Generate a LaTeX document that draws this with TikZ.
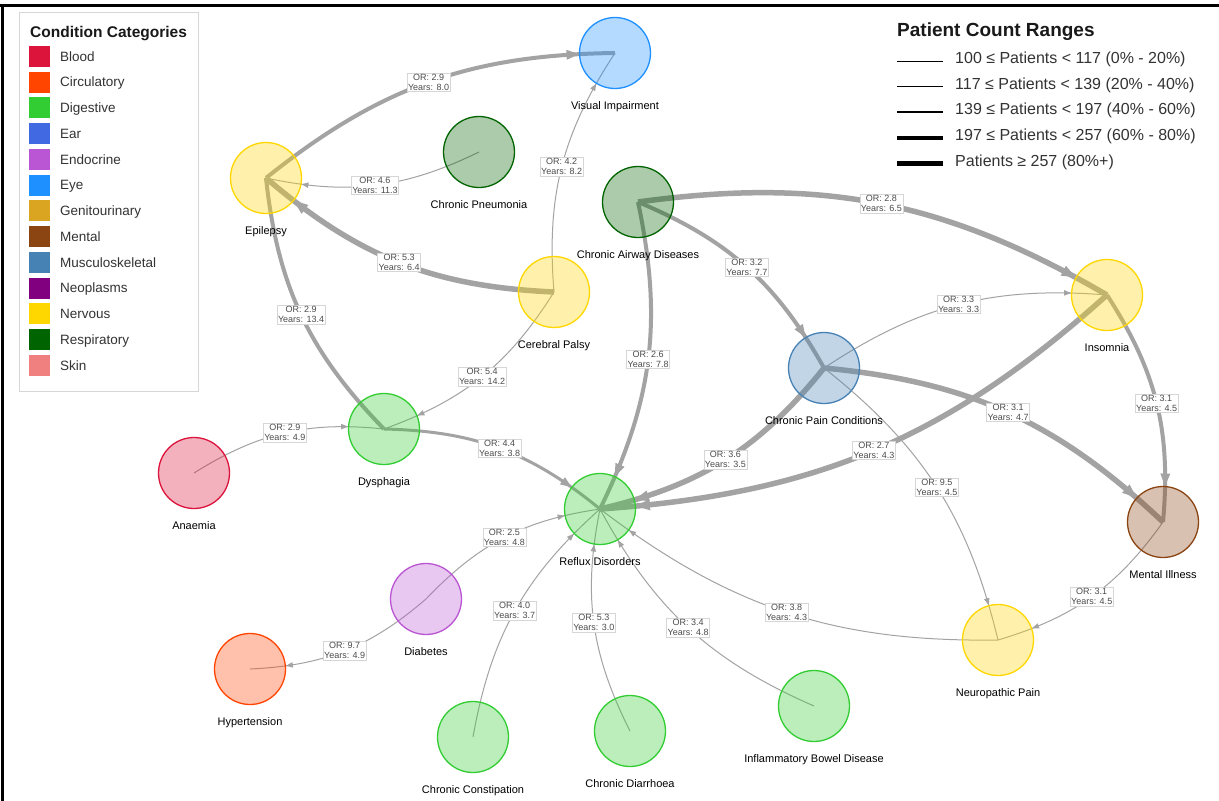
\documentclass[tikz,border=0pt]{standalone}
\usepackage{fontspec}
\setmainfont{Liberation Sans}
\usetikzlibrary{arrows.meta}
\usetikzlibrary{decorations.markings}

\definecolor{bloodc}{HTML}{DC143C}
\definecolor{circc}{HTML}{FF4500}
\definecolor{digc}{HTML}{32CD32}
\definecolor{earc}{HTML}{4169E1}
\definecolor{endoc}{HTML}{BA55D3}
\definecolor{eyec}{HTML}{1E90FF}
\definecolor{genc}{HTML}{DAA520}
\definecolor{mentc}{HTML}{8B4513}
\definecolor{muscc}{HTML}{4682B4}
\definecolor{neoc}{HTML}{800080}
\definecolor{nervc}{HTML}{FFD700}
\definecolor{respc}{HTML}{006400}
\definecolor{skinc}{HTML}{F08080}
\definecolor{linkgray}{HTML}{A3A3A3}
\definecolor{boxgray}{HTML}{D6D6D6}
\definecolor{txtgray}{HTML}{333333}

\pgfdeclarelayer{paper}
\pgfdeclarelayer{links}
\pgfsetlayers{paper,links,main}

\begin{document}
\begin{tikzpicture}[x=1pt, y=-1pt]

\def\rr{36}   % radius of a condition circle, border included
\def\bend{19} % bend of every link
\def\ly{56}   % drop from circle centre to label baseline

\tikzset{cond/.style = {circle, minimum size=71pt, inner sep=0pt,
                        line width=1.3pt, fill opacity=0.33},
         blood/.style   = {cond, draw=bloodc, fill=bloodc},
         circul/.style  = {cond, draw=circc,  fill=circc},
         digest/.style  = {cond, draw=digc,   fill=digc},
         endo/.style    = {cond, draw=endoc,  fill=endoc},
         eye/.style     = {cond, draw=eyec,   fill=eyec},
         mental/.style  = {cond, draw=mentc,  fill=mentc},
         musc/.style    = {cond, draw=muscc,  fill=muscc},
         nervous/.style = {cond, draw=nervc,  fill=nervc},
         resp/.style    = {cond, draw=respc,  fill=respc},
         condlbl/.style = {anchor=base, inner sep=0pt, text=black,
                           font=\fontsize{11}{13}\selectfont}
        }

\tikzset{link/.style 2 args = {draw=linkgray, line width=#1, postaction={decorate},
            decoration={markings, mark=at position -\rr pt with
              {\arrow{Triangle[length=#2, width'=0pt 0.8, line width=0pt]}}}},
         wa/.style = {link={1pt}{7pt}},
         wc/.style = {link={3pt}{11pt}},
         wd/.style = {link={4pt}{12.5pt}},
         we/.style = {link={5.5pt}{14pt}},
         orlbl/.style = {fill=white, draw=boxgray, line width=0.6pt, inner sep=1pt,
                         align=center, text=black!70, font=\fontsize{9}{10}\selectfont}
        }

\tikzset{legsq/.style    = {rectangle, minimum size=21pt, inner sep=0pt},
         legtext/.style  = {anchor=base west, inner sep=0pt, text=txtgray,
                            font=\fontsize{13.5}{15}\selectfont},
         legtitle/.style = {anchor=base west, inner sep=0pt, text=black!90,
                            font=\fontsize{15.5}{18}\selectfont\bfseries},
         rangetext/.style = {anchor=base west, inner sep=0pt, text=txtgray,
                             font=\fontsize{16}{18}\selectfont}
        }

\begin{pgfonlayer}{paper}
\fill[white] (0,0) rectangle (1219,801);
\end{pgfonlayer}
\useasboundingbox (0,0) rectangle (1219,801);

% frame
\draw[line width=3pt] (0,5.5) -- (1219,5.5);
\draw[line width=3pt] (2.5,4) -- (2.5,801);

% conditions
\node[eye]     (vi)   at (615,53)   {};
\node[nervous] (ep)   at (266,178)  {};
\node[resp]    (cpn)  at (479,152)  {};
\node[resp]    (cad)  at (638,202)  {};
\node[nervous] (cpal) at (554,292)  {};
\node[nervous] (ins)  at (1107,295) {};
\node[musc]    (cpc)  at (824,368)  {};
\node[digest]  (dys)  at (384,429)  {};
\node[blood]   (ana)  at (194,473)  {};
\node[digest]  (ref)  at (600,509)  {};
\node[mental]  (mi)   at (1163,522) {};
\node[endo]    (dia)  at (426,599)  {};
\node[circul]  (hyp)  at (250,669)  {};
\node[nervous] (np)   at (998,640)  {};
\node[digest]  (cc)   at (473,737)  {};
\node[digest]  (cd)   at (630,731)  {};
\node[digest]  (ibd)  at (814,706)  {};

% names of the conditions
\node[condlbl] (vi-l)   at ([yshift=-\ly pt]vi.center)   {Visual Impairment};
\node[condlbl] (ep-l)   at ([yshift=-\ly pt]ep.center)   {Epilepsy};
\node[condlbl] (cpn-l)  at ([yshift=-\ly pt]cpn.center)  {Chronic Pneumonia};
\node[condlbl] (cad-l)  at ([yshift=-\ly pt]cad.center)  {Chronic Airway Diseases};
\node[condlbl] (cpal-l) at ([yshift=-\ly pt]cpal.center) {Cerebral Palsy};
\node[condlbl] (ins-l)  at ([yshift=-\ly pt]ins.center)  {Insomnia};
\node[condlbl] (cpc-l)  at ([yshift=-\ly pt]cpc.center)  {Chronic Pain Conditions};
\node[condlbl] (dys-l)  at ([yshift=-\ly pt]dys.center)  {Dysphagia};
\node[condlbl] (ana-l)  at ([yshift=-\ly pt]ana.center)  {Anaemia};
\node[condlbl] (ref-l)  at ([yshift=-\ly pt]ref.center)  {Reflux Disorders};
\node[condlbl] (mi-l)   at ([yshift=-\ly pt]mi.center)   {Mental Illness};
\node[condlbl] (dia-l)  at ([yshift=-\ly pt]dia.center)  {Diabetes};
\node[condlbl] (hyp-l)  at ([yshift=-\ly pt]hyp.center)  {Hypertension};
\node[condlbl] (np-l)   at ([yshift=-\ly pt]np.center)   {Neuropathic Pain};
\node[condlbl] (cc-l)   at ([yshift=-\ly pt]cc.center)   {Chronic Constipation};
\node[condlbl] (cd-l)   at ([yshift=-\ly pt]cd.center)   {Chronic Diarrhoea};
\node[condlbl] (ibd-l)  at ([yshift=-\ly pt]ibd.center)  {Inflammatory Bowel Disease};

% links between conditions
\begin{pgfonlayer}{links}
\draw[wa] (cpn.center)  to[bend left=\bend] node[orlbl] (or-cpn-ep)   {OR: 4.6\\Years: 11.3} (ep.center);
\draw[wa] (cpal.center) to[bend left=\bend] node[orlbl] (or-cpal-vi)  {OR: 4.2\\Years: 8.2}  (vi.center);
\draw[wa] (cpal.center) to[bend left=\bend] node[orlbl] (or-cpal-dys) {OR: 5.4\\Years: 14.2} (dys.center);
\draw[wa] (ana.center)  to[bend left=\bend] node[orlbl] (or-ana-dys)  {OR: 2.9\\Years: 4.9}  (dys.center);
\draw[wa] (cpc.center)  to[bend left=\bend] node[orlbl] (or-cpc-ins)  {OR: 3.3\\Years: 3.3}  (ins.center);
\draw[wa] (cpc.center)  to[bend left=\bend] node[orlbl] (or-cpc-np)   {OR: 9.5\\Years: 4.5}  (np.center);
\draw[wa] (mi.center)   to[bend left=\bend] node[orlbl] (or-mi-np)    {OR: 3.1\\Years: 4.5}  (np.center);
\draw[wa] (np.center)   to[bend left=\bend] node[orlbl] (or-np-ref)   {OR: 3.8\\Years: 4.3}  (ref.center);
\draw[wa] (ibd.center)  to[bend left=\bend] node[orlbl] (or-ibd-ref)  {OR: 3.4\\Years: 4.8}  (ref.center);
\draw[wa] (cd.center)   to[bend left=\bend] node[orlbl] (or-cd-ref)   {OR: 5.3\\Years: 3.0}  (ref.center);
\draw[wa] (cc.center)   to[bend left=\bend] node[orlbl] (or-cc-ref)   {OR: 4.0\\Years: 3.7}  (ref.center);
\draw[wa] (dia.center)  to[bend left=\bend] node[orlbl] (or-dia-ref)  {OR: 2.5\\Years: 4.8}  (ref.center);
\draw[wa] (dia.center)  to[bend left=\bend] node[orlbl] (or-dia-hyp)  {OR: 9.7\\Years: 4.9}  (hyp.center);

\draw[wc] (dys.center)  to[bend left=\bend] node[orlbl] (or-dys-ref)  {OR: 4.4\\Years: 3.8}  (ref.center);
\draw[draw=linkgray, line width=4pt]
          (dys.center)  to[bend left=\bend] node[orlbl] (or-dys-ep)   {OR: 2.9\\Years: 13.4} (ep.center);
\draw[wd] (ep.center)   to[bend left=\bend] node[orlbl] (or-ep-vi)    {OR: 2.9\\Years: 8.0}  (vi.center);
\draw[wd] (cad.center)  to[bend left=\bend] node[orlbl] (or-cad-ref)  {OR: 2.6\\Years: 7.8}  (ref.center);
\draw[wd] (cad.center)  to[bend left=\bend] node[orlbl] (or-cad-cpc)  {OR: 3.2\\Years: 7.7}  (cpc.center);
\draw[wd] (ins.center)  to[bend left=\bend] node[orlbl] (or-ins-mi)   {OR: 3.1\\Years: 4.5}  (mi.center);
\draw[we] (cpal.center) to[bend left=\bend] node[orlbl] (or-cpal-ep)  {OR: 5.3\\Years: 6.4}  (ep.center);
\draw[we] (cad.center)  to[bend left=\bend] node[orlbl] (or-cad-ins)  {OR: 2.8\\Years: 6.5}  (ins.center);
\draw[we] (cpc.center)  to[bend left=\bend] node[orlbl] (or-cpc-mi)   {OR: 3.1\\Years: 4.7}  (mi.center);
\draw[we] (cpc.center)  to[bend left=\bend] node[orlbl] (or-cpc-ref)  {OR: 3.6\\Years: 3.5}  (ref.center);
\draw[we] (ins.center)  to[bend left=\bend] node[orlbl] (or-ins-ref)  {OR: 2.7\\Years: 4.3}  (ref.center);
\end{pgfonlayer}

% legend of categories
\draw[draw=boxgray, line width=1pt, fill=white] (19,12) rectangle (198,391);
\node[legtitle] (cat-title) at (30,37) {Condition Categories};
\node[legsq, fill=bloodc] (sq-blood) at (39.5,56.3)  {}; \node[legtext] (lg-blood) at (60,61.1)  {Blood};
\node[legsq, fill=circc]  (sq-circ)  at (39.5,82.05) {}; \node[legtext] (lg-circ)  at (60,86.85) {Circulatory};
\node[legsq, fill=digc]   (sq-dig)   at (39.5,107.8) {}; \node[legtext] (lg-dig)   at (60,112.6) {Digestive};
\node[legsq, fill=earc]   (sq-ear)   at (39.5,133.55){}; \node[legtext] (lg-ear)   at (60,138.35){Ear};
\node[legsq, fill=endoc]  (sq-endo)  at (39.5,159.3) {}; \node[legtext] (lg-endo)  at (60,164.1) {Endocrine};
\node[legsq, fill=eyec]   (sq-eye)   at (39.5,185.05){}; \node[legtext] (lg-eye)   at (60,189.85){Eye};
\node[legsq, fill=genc]   (sq-gen)   at (39.5,210.8) {}; \node[legtext] (lg-gen)   at (60,215.6) {Genitourinary};
\node[legsq, fill=mentc]  (sq-ment)  at (39.5,236.55){}; \node[legtext] (lg-ment)  at (60,241.35){Mental};
\node[legsq, fill=muscc]  (sq-musc)  at (39.5,262.3) {}; \node[legtext] (lg-musc)  at (60,267.1) {Musculoskeletal};
\node[legsq, fill=neoc]   (sq-neo)   at (39.5,288.05){}; \node[legtext] (lg-neo)   at (60,292.85){Neoplasms};
\node[legsq, fill=nervc]  (sq-nerv)  at (39.5,313.8) {}; \node[legtext] (lg-nerv)  at (60,318.6) {Nervous};
\node[legsq, fill=respc]  (sq-resp)  at (39.5,339.55){}; \node[legtext] (lg-resp)  at (60,344.35){Respiratory};
\node[legsq, fill=skinc]  (sq-skin)  at (39.5,365.3) {}; \node[legtext] (lg-skin)  at (60,370.1) {Skin};

% legend of patient counts
\node[legtitle, font=\fontsize{19}{22}\selectfont\bfseries] (cnt-title) at (897,36) {Patient Count Ranges};
\draw[line width=1pt]   (897,61)   -- (943,61);
\draw[line width=1.7pt] (897,86.5) -- (943,86.5);
\draw[line width=2.7pt] (897,112)  -- (943,112);
\draw[line width=3.3pt] (897,138)  -- (943,138);
\draw[line width=4.3pt] (897,163.5)-- (943,163.5);
\node[rangetext] (cnt-a) at (955,63.5)  {100 ≤ Patients < 117 (0\% - 20\%)};
\node[rangetext] (cnt-b) at (955,89)    {117 ≤ Patients < 139 (20\% - 40\%)};
\node[rangetext] (cnt-c) at (955,114.5) {139 ≤ Patients < 197 (40\% - 60\%)};
\node[rangetext] (cnt-d) at (955,140.5) {197 ≤ Patients < 257 (60\% - 80\%)};
\node[rangetext] (cnt-e) at (955,166)   {Patients ≥ 257 (80\%+)};

\end{tikzpicture}
\end{document}
